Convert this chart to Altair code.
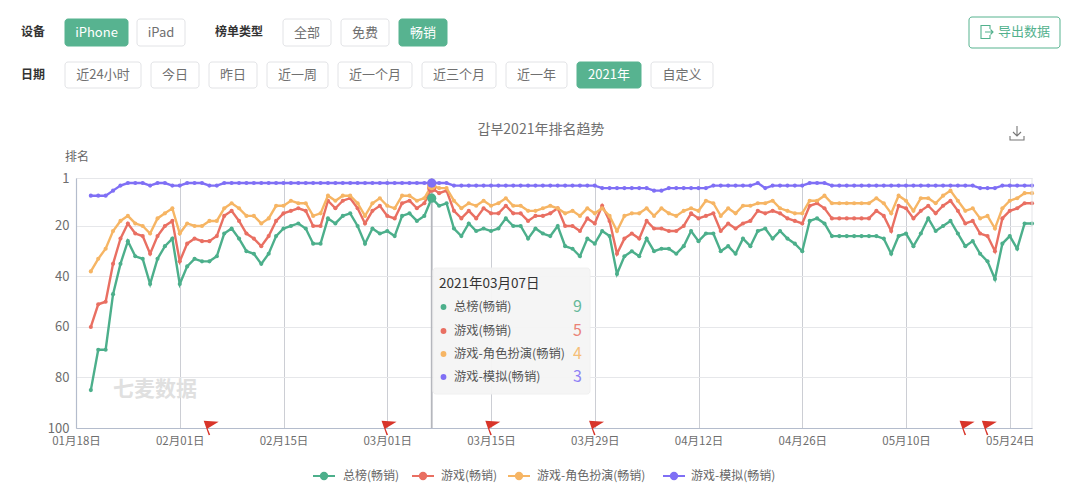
import altair as alt
import pandas as pd

FONT = "Noto Sans CJK SC"
X0, Y0 = 76, 178

names = ["总榜(畅销)", "游戏(畅销)", "游戏-角色扮演(畅销)", "游戏-模拟(畅销)"]
colors = ["#4caf8b", "#e96f62", "#f6b564", "#7f6ff5"]

total = [85,69,69,47,35,26,32,33,43,33,
         28,25,43,36,33,34,34,32,23,21,
         25,30,31,35,31,24,21,20,19,21,
         27,27,17,19,16,15,20,27,21,23,
         22,24,16,15,18,16,9,12,11,21,
         24,19,22,21,22,21,17,20,20,25,
         21,23,24,20,28,29,32,25,27,22,
         24,39,32,30,32,25,30,29,29,31,
         28,22,26,23,23,30,28,31,25,28,
         22,21,25,22,25,27,30,18,17,19,
         24,24,24,24,24,24,24,25,31,24,
         23,28,23,17,22,20,18,23,28,26,
         31,34,41,27,24,29,19,19]
games = [60,51,50,35,25,19,23,24,31,24,
         20,18,34,27,25,26,26,24,16,14,
         18,23,25,28,24,18,15,14,13,14,
         20,20,10,13,10,9,13,19,14,12,
         16,17,11,10,13,11,5,7,6,14,
         17,14,17,13,15,15,12,15,15,18,
         16,16,15,13,20,20,22,17,19,12,
         18,31,25,23,25,18,21,21,22,22,
         20,15,17,16,15,22,19,21,19,18,
         14,15,14,15,17,18,19,12,11,13,
         17,17,17,17,17,17,14,16,22,12,
         13,17,14,12,15,12,10,14,19,18,
         23,24,30,17,14,13,11,11]
rpg = [38,33,29,22,18,16,19,20,23,17,
       15,13,23,19,20,20,18,18,13,11,
       13,16,16,19,17,12,12,10,11,11,
       16,15,8,10,8,8,11,16,11,9,
       12,13,8,8,10,9,4,5,5,10,
       13,11,12,10,12,11,9,12,12,14,
       14,13,12,13,15,14,16,13,15,13,
       16,22,16,15,15,13,16,13,15,16,
       14,13,14,10,11,16,13,15,12,12,
       11,11,10,13,14,15,15,10,10,8,
       11,11,11,11,11,11,9,11,15,8,
       10,14,9,9,11,8,6,10,14,13,
       17,16,21,13,10,9,7,7]
sim = [8,8,8,6,4,3,3,3,4,3,
       3,4,4,3,3,3,4,4,3,3,
       3,3,3,3,3,3,3,3,3,3,
       3,3,3,3,3,3,3,3,3,3,
       3,3,3,3,3,3,3,3,3,4,
       4,4,4,4,4,4,4,4,4,4,
       4,4,4,4,4,4,4,4,4,5,
       5,5,5,5,5,5,6,6,5,5,
       5,5,5,5,4,4,4,4,4,4,
       3,5,4,4,4,4,4,3,3,3,
       4,4,4,4,4,4,4,4,4,4,
       4,4,4,4,4,4,4,4,4,4,
       5,5,5,4,4,4,4,4]
series = [total, games, rpg, sim]

dates = pd.date_range("2021-01-20", periods=len(total)).strftime("%Y/%m/%d").tolist()
flag_dates = ["2021/02/05", "2021/03/01", "2021/03/15", "2021/03/29", "2021/05/18", "2021/05/21"]
focus_date = "2021/03/07"
focus_values = [9, 5, 4, 3]
y_ticks = [1, 20, 40, 60, 80, 100]


def dt(m, d):
    return alt.DateTime(year=2021, month=m, date=d)


x_ticks = [dt(1, 18), dt(2, 1), dt(2, 15), dt(3, 1), dt(3, 15), dt(3, 29),
           dt(4, 12), dt(4, 26), dt(5, 10), dt(5, 24)]
x_scale = alt.Scale(domain=[dt(1, 18), dt(5, 27)], nice=False)
y_scale = alt.Scale(domain=[1, 100], reverse=True, nice=False, zero=False)
x_axis = alt.Axis(values=x_ticks, format="%m月%d日", title=None, labelFont=FONT, labelFontSize=11.5,
                  labelColor="#6e6e6e", labelPadding=7, ticks=False, domainColor="#b4bccc",
                  domainWidth=1.2, grid=True, gridColor="#ccced4", gridWidth=1,
                  labelOverlap=False, labelFlush=False)
y_axis = alt.Axis(values=y_ticks, title=None, labelFont=FONT, labelFontSize=13, labelColor="#6e6e6e",
                  labelPadding=7, ticks=False, domainColor="#b4bccc", domainWidth=1.2,
                  grid=True, gridColor="#e6e7ea", gridWidth=1.2)

layers = []
for name, vals, col in zip(names, series, colors):
    df = pd.DataFrame({"date": dates, "rank": vals, "series": name})
    layers.append(
        alt.Chart(df).mark_line(
            color=col, strokeWidth=2.4,
            point=alt.OverlayMarkDef(filled=True, size=17, color=col, opacity=1),
        ).encode(
            x=alt.X("date:T", scale=x_scale, axis=x_axis),
            y=alt.Y("rank:Q", scale=y_scale, axis=y_axis),
        )
    )

# crosshair at the hovered day and its enlarged points
layers.append(
    alt.Chart(pd.DataFrame({"date": [focus_date]}))
    .mark_rule(color="#b5b7bd", strokeWidth=1.8)
    .encode(x=alt.X("date:T", scale=x_scale, axis=x_axis))
)
for v, col in zip(focus_values, colors):
    layers.append(
        alt.Chart(pd.DataFrame({"date": [focus_date], "rank": [v]}))
        .mark_point(filled=True, size=85, color=col, opacity=1)
        .encode(x=alt.X("date:T", scale=x_scale, axis=x_axis),
                y=alt.Y("rank:Q", scale=y_scale, axis=y_axis))
    )

# event flags on the bottom of the plot
FLAG = "M-5.7 -7.3 L9.3 -6.3 L-1.8 0.6 L0.8 6.8 L-0.7 7.3 Z"
layers.append(
    alt.Chart(pd.DataFrame({"date": flag_dates, "rank": [100] * len(flag_dates)}))
    .mark_point(shape=FLAG, filled=True, size=4, color="#d8352a", opacity=1)
    .encode(x=alt.X("date:T", scale=x_scale, axis=x_axis),
            y=alt.Y("rank:Q", scale=y_scale, axis=y_axis))
)


def px(x):
    return x - X0


def py(y):
    return y - Y0


PX = alt.X("px:Q", scale=None, axis=None)
PY = alt.Y("py:Q", scale=None, axis=None)

GREEN = "#52b18d"
BORDER = "#e2e3e6"
GREY = "#707070"

# (label, left, right, top, bottom, active)
buttons = [
    ("iPhone", 65, 128, 19, 46, True), ("iPad", 137, 185, 19, 46, False),
    ("全部", 283, 331, 19, 46, False), ("免费", 341, 389, 19, 46, False),
    ("畅销", 399, 447, 19, 46, True),
    ("近24小时", 65, 141, 62, 88, False), ("今日", 151, 199, 62, 88, False),
    ("昨日", 209, 257, 62, 88, False), ("近一周", 267, 328, 62, 88, False),
    ("近一个月", 338, 412, 62, 88, False), ("近三个月", 422, 496, 62, 88, False),
    ("近一年", 506, 567, 62, 88, False), ("2021年", 577, 641, 62, 88, True),
    ("自定义", 651, 713, 62, 88, False),
]
rects = [dict(px=px(l), px2=px(r), py=py(t), py2=py(b),
              fill=GREEN if a else "#ffffff", stroke=GREEN if a else BORDER)
         for _, l, r, t, b, a in buttons]
rects.append(dict(px=px(969), px2=px(1060), py=py(17), py2=py(48), fill="#ffffff", stroke=GREEN))
rects.append(dict(px=px(433), px2=px(590), py=py(268), py2=py(394), fill="#f5f5f5", stroke="#f0f0f0"))
layers.append(
    alt.Chart(pd.DataFrame(rects)).mark_rect(cornerRadius=3, strokeWidth=1, opacity=0.97).encode(
        x=PX, x2=alt.X2("px2:Q"), y=PY, y2=alt.Y2("py2:Q"),
        fill=alt.Fill("fill:N", scale=None), stroke=alt.Stroke("stroke:N", scale=None),
    )
)

# left / centre aligned regular text
text_rows = []
for label, l, r, t, b, a in buttons:
    text_rows.append(dict(px=px((l + r) / 2), py=py((t + b) / 2), label=label, size=13,
                          color="#ffffff" if a else GREY, align="center"))
text_rows += [
    dict(px=px(1024), py=py(32), label="导出数据", size=13, color=GREEN, align="center"),
    dict(px=px(541), py=py(130), label="갑부2021年排名趋势", size=14, color="#707070", align="center"),
    dict(px=px(77), py=py(157), label="排名", size=12, color="#666666", align="center"),
    dict(px=px(439), py=py(284), label="2021年03月07日", size=13.5, color="#333333", align="left"),
]
rows_y = [307, 331, 354, 377]
for name, y in zip(names, rows_y):
    text_rows.append(dict(px=px(454), py=py(y), label=name, size=12.3, color="#555555", align="left"))
legend_text_x = [343, 441, 537, 691]
for name, x in zip(names, legend_text_x):
    text_rows.append(dict(px=px(x), py=py(476), label=name, size=12, color="#666666", align="left"))
tdf = pd.DataFrame(text_rows)
for al in ["left", "center"]:
    layers.append(
        alt.Chart(tdf[tdf["align"] == al]).mark_text(font=FONT, align=al, baseline="middle").encode(
            x=PX, y=PY, text="label:N",
            size=alt.Size("size:Q", scale=None, legend=None),
            color=alt.Color("color:N", scale=None),
        )
    )

# bold row captions
caps = pd.DataFrame([
    dict(px=px(33), py=py(32), label="设备"),
    dict(px=px(239), py=py(32), label="榜单类型"),
    dict(px=px(33), py=py(75), label="日期"),
])
layers.append(
    alt.Chart(caps).mark_text(font=FONT, fontSize=12, fontWeight="bold", color="#333333",
                              align="center", baseline="middle").encode(x=PX, y=PY, text="label:N")
)

# tooltip values and dots
tip = pd.DataFrame({"px": [px(582)] * 4, "py": [py(y) for y in rows_y],
                    "label": [str(v) for v in focus_values], "color": colors})
layers.append(
    alt.Chart(tip).mark_text(font=FONT, fontSize=16, align="right", baseline="middle", opacity=0.85).encode(
        x=PX, y=PY, text="label:N", color=alt.Color("color:N", scale=None))
)
dots = pd.DataFrame({"px": [px(443.5)] * 4, "py": [py(y) for y in rows_y], "color": colors})
layers.append(
    alt.Chart(dots).mark_point(filled=True, size=34, opacity=1).encode(
        x=PX, y=PY, color=alt.Color("color:N", scale=None))
)

# bottom legend
leg_x = [324, 423, 519, 674]
leg = pd.DataFrame({"px": [px(x - 11) for x in leg_x], "px2": [px(x + 11) for x in leg_x],
                    "pm": [px(x) for x in leg_x], "py": [py(476)] * 4, "color": colors})
layers.append(
    alt.Chart(leg).mark_rule(strokeWidth=2).encode(
        x=PX, x2=alt.X2("px2:Q"), y=PY, color=alt.Color("color:N", scale=None))
)
layers.append(
    alt.Chart(leg).mark_point(filled=True, size=70, opacity=1).encode(
        x=alt.X("pm:Q", scale=None, axis=None), y=PY, color=alt.Color("color:N", scale=None))
)

# watermark
layers.append(
    alt.Chart(pd.DataFrame({"px": [px(155)], "py": [py(390)], "label": ["七麦数据"]}))
    .mark_text(font=FONT, fontSize=21, fontWeight="bold", color="#e0e0e0",
               align="center", baseline="middle").encode(x=PX, y=PY, text="label:N")
)

# right edge of the plot
layers.append(
    alt.Chart(pd.DataFrame({"px": [956]})).mark_rule(color="#e4e5e8", strokeWidth=1).encode(x=PX)
)

# icons
icons = [
    ("M0 -7 L0 3 M-4 -1 L0 3 L4 -1 M-7 3 L-7 7 L7 7 L7 3", 1017, 133, "#777777"),
    ("M4 -3 L4 -6.5 L-5 -6.5 L-5 6.5 L4 6.5 L4 3 M-1 0 L7 0 M4.5 -2.5 L7 0 L4.5 2.5", 986, 32, GREEN),
]
for path, x, y, col in icons:
    layers.append(
        alt.Chart(pd.DataFrame({"px": [px(x)], "py": [py(y)]}))
        .mark_point(shape=path, size=4, filled=False, color=col, strokeWidth=1.1, opacity=1)
        .encode(x=PX, y=PY)
    )

chart = (
    alt.layer(*layers)
    .properties(width=956, height=250, background="#ffffff",
                autosize=alt.AutoSizeParams(type="none"),
                padding={"left": X0 - 8, "top": Y0 - 8, "right": 36, "bottom": 60})
    .configure_view(stroke=None)
)
chart.save("out.html", embed_options={"renderer": "svg", "actions": False})
